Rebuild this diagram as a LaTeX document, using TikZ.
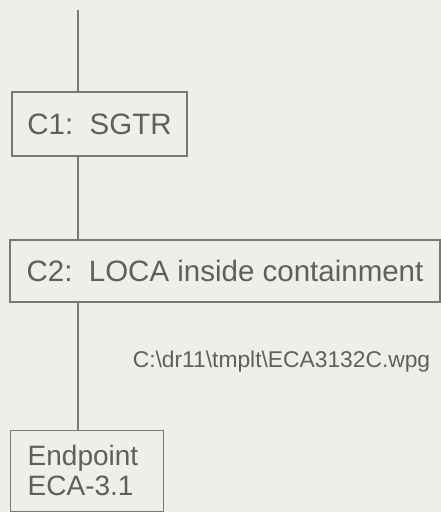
\documentclass[tikz,border=0pt]{standalone}
\usepackage{fontspec}
\setmainfont{Liberation Sans}
\usepackage{tikz}
\usetikzlibrary{positioning, calc}
\definecolor{paperbg}{RGB}{239, 238, 234}
\definecolor{inkgray}{RGB}{95, 95, 92}
\definecolor{linegray}{RGB}{120, 120, 117}

\begin{document}
\begin{tikzpicture}[
  x=1pt, y=-1pt,
  cbox/.style={draw=linegray, line width=1.4pt, fill=paperbg, text=inkgray, inner sep=0pt, font=\fontsize{29.5}{31}\selectfont},
  link/.style={draw=linegray, line width=1.3pt}
]
  \clip (0,0) rectangle (441,512);
  \fill[paperbg] (0,0) rectangle (441,512);

  \coordinate (top) at (78,10);
  \node[cbox, minimum width=175pt, minimum height=64pt] (c1) at (99.5,124) {C1:\ \ SGTR};
  \node[cbox, minimum width=430pt, minimum height=62pt] (c2) at (225,271) {C2:\ \ LOCA inside containment};
  \node[cbox, inner xsep=17pt, inner ysep=15pt, text width=119pt, align=left, font=\fontsize{28}{30}\selectfont, anchor=north west] (endp) at (10,430) {Endpoint\\ECA-3.1\\[10pt]};
  \node[text=inkgray, font=\fontsize{22.8}{24}\selectfont] (fname) at (281.5,362) {C:\textbackslash dr11\textbackslash tmplt\textbackslash ECA3132C.wpg};

  \draw[link] (top) -- (top |- c1.north);
  \draw[link] (c1.south -| top) -- (c2.north -| top);
  \draw[link] (c2.south -| top) -- (endp.north -| top);
\end{tikzpicture}
\end{document}
